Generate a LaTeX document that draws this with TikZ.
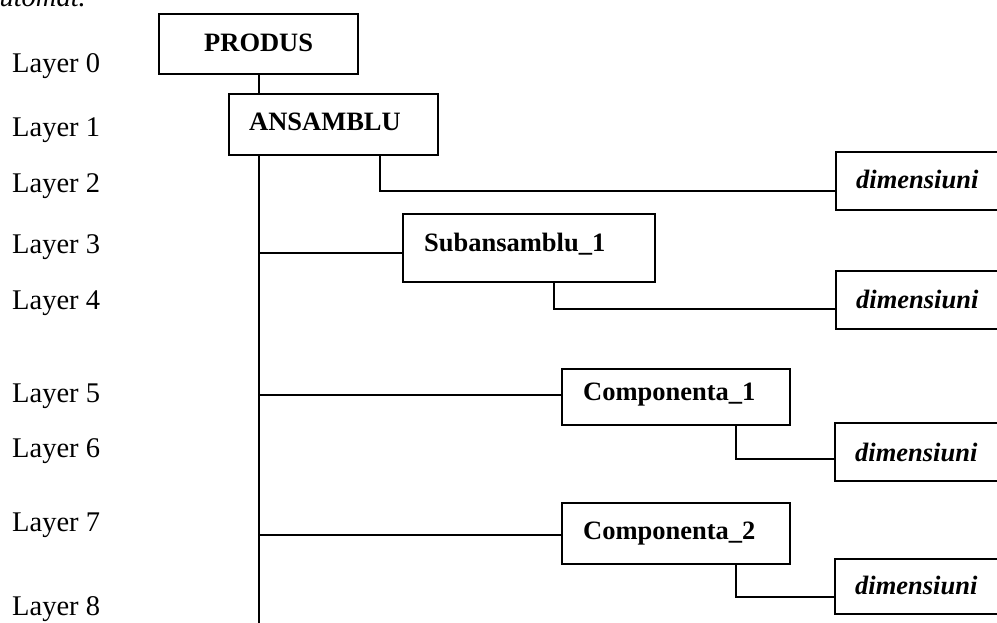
\documentclass[tikz,border=0pt]{standalone}
\usepackage{fontspec}
\setmainfont{Liberation Serif}
\newcommand\layersize{\fontsize{28.5}{32}\selectfont}
\newcommand\boxsize{\fontsize{26.5}{30}\selectfont}
\begin{document}
\begin{tikzpicture}[x=1pt,y=-1pt,
  lay/.style={anchor=base west, inner sep=0pt, font=\layersize},
  box/.style={draw, line width=2.3pt, rectangle, anchor=north west,
    inner ysep=0pt, align=left, font=\boxsize\bfseries},
  dimbox/.style={box, inner xsep=20pt, text width=200pt, font=\boxsize\bfseries\itshape},
  link/.style={line width=2.3pt}]
\useasboundingbox (0,0) rectangle (997,623);
\clip (0,0) rectangle (997,623);

% tail of the preceding paragraph
\node[anchor=base east, inner sep=0pt, font=\layersize\itshape] (frag) at (86,7) {automat.};

% layer labels
\node[lay] (L0) at (12,73)  {Layer 0};
\node[lay] (L1) at (12,137) {Layer 1};
\node[lay] (L2) at (12,193) {Layer 2};
\node[lay] (L3) at (12,254) {Layer 3};
\node[lay] (L4) at (12,309) {Layer 4};
\node[lay] (L5) at (12,402) {Layer 5};
\node[lay] (L6) at (12,457) {Layer 6};
\node[lay] (L7) at (12,531) {Layer 7};
\node[lay] (L8) at (12,615) {Layer 8};

% structure boxes
\node[box, inner xsep=0pt, text width=199pt, align=center, text height=37pt, text depth=23pt]
  (prod) at (158,13) {PRODUS};
\node[box, inner xsep=20pt, text width=169pt, text height=36pt, text depth=25pt]
  (ans) at (228,93) {ANSAMBLU};
\node[box, inner xsep=21pt, text width=210pt, text height=37pt, text depth=31pt]
  (sub) at (402,213) {Subansamblu\_1};
\node[box, inner xsep=21pt, text width=186pt, text height=31pt, text depth=25pt]
  (comp1) at (561,368) {Componenta\_1};
\node[box, inner xsep=21pt, text width=186pt, text height=36pt, text depth=25pt]
  (comp2) at (561,502) {Componenta\_2};

% dimension boxes
\node[dimbox, text height=36pt, text depth=22pt] (dim1) at (835,151) {dimensiuni};
\node[dimbox, text height=37pt, text depth=21pt] (dim2) at (835,270) {dimensiuni};
\node[dimbox, text height=38pt, text depth=20pt] (dim3) at (834,422) {dimensiuni};
\node[dimbox, text height=35pt, text depth=20pt] (dim4) at (834,558) {dimensiuni};

\coordinate (foot) at (258,640);

% trunk
\draw[link] (prod.south) -- (prod.south |- ans.north);
\draw[link] (prod.south |- ans.south) -- (prod.south |- foot);

% branches off the trunk
\draw[link] ([yshift=30pt]sub.south west) coordinate (j1) -- (j1 -| prod.south);
\draw[link] ([yshift=31pt]comp1.south west) coordinate (j2) -- (j2 -| prod.south);
\draw[link] ([yshift=30pt]comp2.south west) coordinate (j3) -- (j3 -| prod.south);

% links to the dimension boxes
\draw[link] ([xshift=152pt]ans.south west) |- ([yshift=20pt]dim1.south west);
\draw[link] ([xshift=152pt]sub.south west) |- ([yshift=21pt]dim2.south west);
\draw[link] ([xshift=175pt]comp1.south west) |- ([yshift=23pt]dim3.south west);
\draw[link] ([xshift=175pt]comp2.south west) |- ([yshift=18pt]dim4.south west);
\end{tikzpicture}
\end{document}
